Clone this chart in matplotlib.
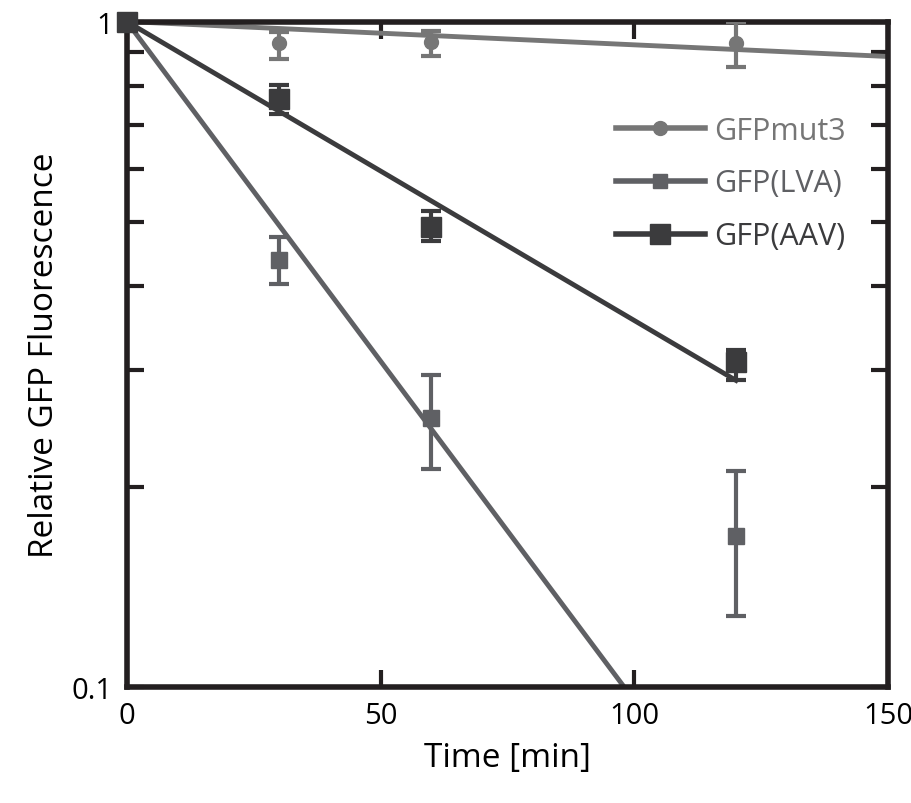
import matplotlib
matplotlib.use("Agg")
import matplotlib.pyplot as plt
from matplotlib.lines import Line2D
from matplotlib.ticker import FixedLocator, NullFormatter

plt.rcParams['font.family'] = ['Open Sans', 'DejaVu Sans']

# measured points (time in min, relative fluorescence)
time = [0, 30, 60, 120]

mut3_y = [1.0, 0.927, 0.933, 0.927]
mut3_lo = [1.0, 0.877, 0.889, 0.853]
mut3_hi = [1.0, 0.963, 0.969, 1.0]

lva_y = [1.0, 0.439, 0.254, 0.169]
lva_lo = [1.0, 0.403, 0.213, 0.128]
lva_hi = [1.0, 0.474, 0.294, 0.211]

aav_y = [1.0, 0.764, 0.492, 0.308]
aav_lo = [1.0, 0.725, 0.468, 0.289]
aav_hi = [1.0, 0.804, 0.520, 0.321]

# exponential fit lines (endpoints)
mut3_fit_x = [0, 150]
mut3_fit_y = [1.0, 0.886]
lva_fit_x = [0, 98]
lva_fit_y = [1.0, 0.1]
aav_fit_x = [0, 120]
aav_fit_y = [1.0, 0.289]

c_mut3 = "#767676"
c_lva = "#5f6064"
c_aav = "#3b3b3d"
c_axis = "#231f20"

fig = plt.figure(figsize=(9.12, 8.04), dpi=100)
ax = fig.add_axes([0.139, 0.144, 0.835, 0.828])
ax.set_yscale("log")

ax.plot(mut3_fit_x, mut3_fit_y, "-", color=c_mut3, lw=3.5, zorder=2)
ax.plot(lva_fit_x, lva_fit_y, "-", color=c_lva, lw=3.5, zorder=2)
ax.plot(aav_fit_x, aav_fit_y, "-", color=c_aav, lw=3.5, zorder=2)


def err(y, lo, hi):
    return [[a - b for a, b in zip(y, lo)], [b - a for a, b in zip(y, hi)]]


ax.errorbar(time, mut3_y, yerr=err(mut3_y, mut3_lo, mut3_hi), fmt="o",
            color=c_mut3, ms=10, elinewidth=3, capsize=7, capthick=3,
            zorder=3)
ax.errorbar(time, lva_y, yerr=err(lva_y, lva_lo, lva_hi), fmt="s",
            color=c_lva, ms=11, elinewidth=3, capsize=7, capthick=3,
            zorder=3)
ax.errorbar(time, aav_y, yerr=err(aav_y, aav_lo, aav_hi), fmt="s",
            color=c_aav, ms=14, elinewidth=3, capsize=7, capthick=3,
            zorder=4, clip_on=False)

ax.set_xlim(0, 150)
ax.set_ylim(0.1, 1)

ax.xaxis.set_major_locator(FixedLocator([0, 50, 100, 150]))
ax.yaxis.set_major_locator(FixedLocator([0.1, 1]))
ax.yaxis.set_minor_locator(FixedLocator([0.2, 0.3, 0.4, 0.5, 0.6, 0.7, 0.8, 0.9]))
ax.yaxis.set_minor_formatter(NullFormatter())
ax.set_yticklabels(["0.1", "1"])

ax.tick_params(axis="both", which="both", direction="in", top=True, right=True,
               color=c_axis, labelsize=21, pad=10)
ax.tick_params(axis="both", which="major", length=12, width=3)
ax.tick_params(axis="y", which="minor", length=12, width=3)

for sp in ax.spines.values():
    sp.set_linewidth(4)
    sp.set_color(c_axis)

ax.set_xlabel("Time [min]", fontsize=24, labelpad=8)
ax.set_ylabel("Relative GFP Fluorescence", fontsize=24, labelpad=8)

handles = [
    Line2D([], [], color=c_mut3, lw=4, marker="o", ms=10),
    Line2D([], [], color=c_lva, lw=4, marker="s", ms=10),
    Line2D([], [], color=c_aav, lw=4, marker="s", ms=14),
]
leg = ax.legend(handles, ["GFPmut3", "GFP(LVA)", "GFP(AAV)"], loc="upper right",
                bbox_to_anchor=(0.98, 0.9), frameon=False, fontsize=22,
                handlelength=2.9, handletextpad=0.3, labelspacing=0.75)
for txt, c in zip(leg.get_texts(), [c_mut3, c_lva, c_aav]):
    txt.set_color(c)

fig.savefig("out.png", dpi=100)
